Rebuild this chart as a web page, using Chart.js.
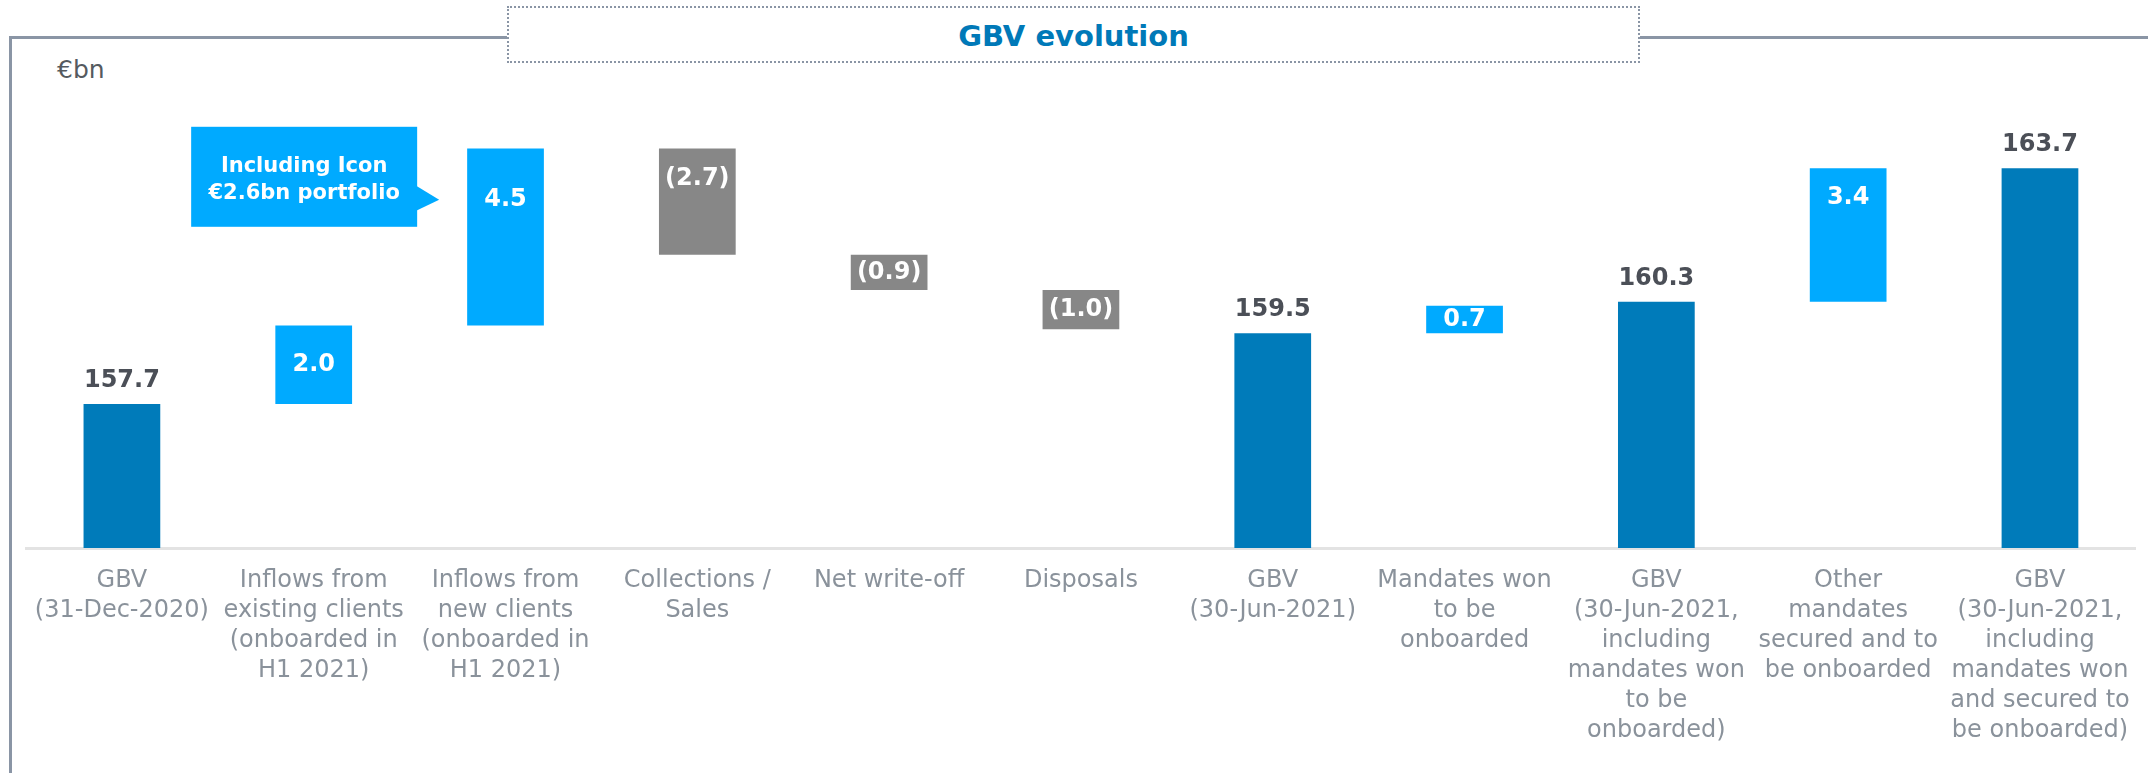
<!DOCTYPE html>
<html>
<head>
<meta charset="utf-8">
<title>GBV evolution</title>
<script src="https://cdn.jsdelivr.net/npm/chart.js@4.4.1/dist/chart.umd.min.js"></script>
<style>
    body { margin: 0; background: #fff; }
    #wrap { position: relative; width: 2148px; height: 773px; overflow: hidden; font-family: "DejaVu Sans", sans-serif; }
    #frame { position: absolute; left: 9px; top: 36px; right: -10px; bottom: -10px;
             border-left: 3px solid #8a95a5; border-top: 3px solid #8a95a5; }
    #title { position: absolute; left: 507px; top: 6px; width: 1129px; height: 53px;
             border: 2px dotted #8a95a5; background: #fff; color: #0079b8;
             font-weight: bold; font-size: 29px; line-height: 57px; text-align: center; }
    #unit { position: absolute; left: 57px; top: 57px; font-size: 25px; line-height: 25px; color: #555a60; }
    #gbv { position: absolute; left: 0; top: 0; }
</style>
</head>
<body>
<div id="wrap">
    <div id="frame"></div>
    <div id="title">GBV evolution</div>
    <div id="unit">€bn</div>
    <canvas id="gbv" width="2148" height="773"></canvas>
</div>
<script>
// categories (multi-line tick labels)
var categories = [
    ['GBV', '(31-Dec-2020)'],
    ['Inflows from', 'existing clients', '(onboarded in', 'H1 2021)'],
    ['Inflows from', 'new clients', '(onboarded in', 'H1 2021)'],
    ['Collections /', 'Sales'],
    ['Net write-off'],
    ['Disposals'],
    ['GBV', '(30-Jun-2021)'],
    ['Mandates won', 'to be', 'onboarded'],
    ['GBV', '(30-Jun-2021,', 'including', 'mandates won', 'to be', 'onboarded)'],
    ['Other', 'mandates', 'secured and to', 'be onboarded'],
    ['GBV', '(30-Jun-2021,', 'including', 'mandates won', 'and secured to', 'be onboarded)']
];

// €bn values: totals are levels, the rest are steps
var values = [157.7, 2.0, 4.5, -2.7, -0.9, -1.0, 159.5, 0.7, 160.3, 3.4, 163.7];
var kinds = ['total', 'up', 'up', 'down', 'down', 'down', 'total', 'up', 'total', 'up', 'total'];

var calloutLines = ['Including Icon', '€2.6bn portfolio'];
var calloutIndex = 2;

// broken value axis
var axisMin = 154.04;
var axisMax = 166.45;

var colors = { total: '#007bba', up: '#00aaff', down: '#878787' };

function fmt(v) {
    var s = Math.abs(v).toFixed(1);
    return v < 0 ? '(' + s + ')' : s;
}

function buildBars() {
    var running = 0;
    return values.map(function (v, i) {
        if (kinds[i] === 'total') {
            running = v;
            return [axisMin, v];
        }
        var start = running;
        running += v;
        return [start, running];
    });
}

function labelY(bar) {
    var top = Math.min(bar.y, bar.base);
    var h = Math.abs(bar.base - bar.y);
    if (h > 150) return top + h * 0.29;
    if (h > 90) return top + 30;
    return top + h / 2;
}

var labelPlugin = {
    id: 'waterfallLabels',
    afterDatasetsDraw: function (chart) {
        var ctx = chart.ctx;
        var meta = chart.getDatasetMeta(0);
        ctx.save();
        ctx.font = 'bold 24px "DejaVu Sans"';
        ctx.textAlign = 'center';
        meta.data.forEach(function (bar, i) {
            var top = Math.min(bar.y, bar.base);
            if (kinds[i] === 'total') {
                ctx.fillStyle = '#4b4f57';
                ctx.textBaseline = 'alphabetic';
                ctx.fillText(fmt(values[i]), bar.x, top - 17);
            } else {
                ctx.fillStyle = '#ffffff';
                ctx.textBaseline = 'middle';
                ctx.fillText(fmt(values[i]), bar.x, labelY(bar));
            }
        });

        // callout pointing at the new clients bar
        var b = meta.data[calloutIndex];
        var tipX = b.x - b.width / 2 - 28;
        var tipY = labelY(b);
        var right = tipX - 22;
        var left = right - 226;
        var top = tipY - 73;
        ctx.fillStyle = colors.up;
        ctx.fillRect(left, top, right - left, 100);
        ctx.beginPath();
        ctx.moveTo(right - 1, tipY - 14);
        ctx.lineTo(tipX, tipY);
        ctx.lineTo(right - 1, tipY + 11);
        ctx.closePath();
        ctx.fill();
        ctx.fillStyle = '#ffffff';
        ctx.font = 'bold 21px "DejaVu Sans"';
        ctx.textBaseline = 'alphabetic';
        ctx.fillText(calloutLines[0], (left + right) / 2, tipY - 28);
        ctx.fillText(calloutLines[1], (left + right) / 2, tipY - 1);
        ctx.restore();
    }
};

var chart = new Chart(document.getElementById('gbv').getContext('2d'), {
    type: 'bar',
    data: {
        labels: categories,
        datasets: [{
            data: buildBars(),
            backgroundColor: kinds.map(function (k) { return colors[k]; }),
            borderWidth: 0,
            categoryPercentage: 1,
            barPercentage: 0.4
        }]
    },
    options: {
        responsive: false,
        animation: false,
        layout: { padding: { left: 26, right: 6, top: 60, bottom: 0 } },
        plugins: {
            legend: { display: false },
            tooltip: { enabled: false }
        },
        scales: {
            x: {
                grid: { display: false, drawTicks: false },
                border: { display: true, color: '#e3e3e3', width: 3 },
                ticks: {
                    autoSkip: false,
                    maxRotation: 0,
                    padding: 18,
                    color: '#8a929b',
                    font: { family: 'DejaVu Sans', size: 24, lineHeight: 1.25 }
                },
                afterFit: function (scale) { scale.height = 225; }
            },
            y: {
                display: false,
                min: axisMin,
                max: axisMax
            }
        }
    },
    plugins: [labelPlugin]
});
</script>
</body>
</html>
